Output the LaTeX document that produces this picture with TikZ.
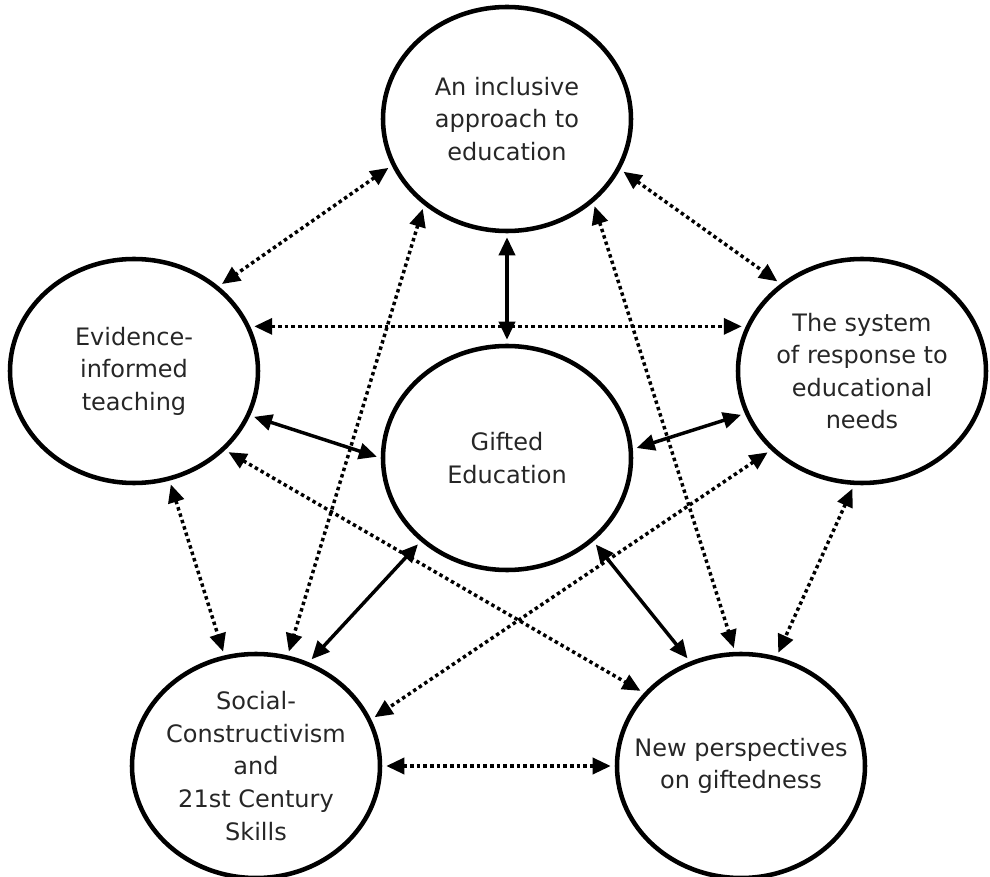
\documentclass[tikz,border=0pt]{standalone}
\usepackage{fontspec}
\setmainfont{DejaVu Sans}
\usepackage{tikz}
\usetikzlibrary{arrows.meta,shapes.geometric}

\begin{document}
\begin{tikzpicture}[
    x=0.75pt, y=-0.75pt,
    bubble/.style={ellipse,draw=black,line width=3.4pt,minimum width=186pt,minimum height=168pt,inner sep=0pt},
    bubtext/.style={align=center,text=black!85,inner sep=0pt,font=\fontsize{18pt}{24.4pt}\selectfont},
    solidlink/.style={{Triangle[length=13.5pt,width=12pt]}-{Triangle[length=13.5pt,width=12pt]},
      line width=2.6pt,shorten <=3pt,shorten >=3pt},
    dotlink/.style={solidlink,dash pattern=on 2.6pt off 2.4pt},
  ]
  \useasboundingbox (0,0) rectangle (990,877);

  % the six themes
  \node[bubble,label={[bubtext]center:An inclusive\\approach to\\education}] (incl) at (507,119) {};
  \node[bubble,label={[bubtext]center:Evidence-\\informed\\teaching}] (evid) at (134,371) {};
  \node[bubble,label={[bubtext]center:The system\\of response to\\educational\\needs}] (resp) at (862,371) {};
  \node[bubble,label={[bubtext]center:Gifted\\Education}] (gifted) at (507,458) {};
  \node[bubble,label={[bubtext]center:Social-\\Constructivism\\and\\21st Century\\Skills}] (social) at (256,766) {};
  \node[bubble,label={[bubtext]center:New perspectives\\on giftedness}] (newp) at (741,766) {};

  % links to the centre
  \draw[solidlink] (incl.270)   -- (gifted.90);
  \draw[solidlink] (evid.-21)   -- (gifted.180);
  \draw[solidlink] (gifted.4)   -- (resp.200);
  \draw[solidlink] (gifted.224) -- (social.63);
  \draw[solidlink] (gifted.-44) -- (newp.116);

  % links around the ring
  \draw[dotlink] (incl.202)  -- (evid.45);
  \draw[dotlink] (incl.-24)  -- (resp.133);
  \draw[dotlink] (evid.21)   -- (resp.159);
  \draw[dotlink] (evid.-72)  -- (social.106);
  \draw[dotlink] (resp.266)  -- (newp.72);
  \draw[dotlink] (social.0)  -- (newp.180);
  \draw[dotlink] (incl.226)  -- (social.74);
  \draw[dotlink] (incl.-44)  -- (newp.93);
  \draw[dotlink] (evid.-41)  -- (newp.143);
  \draw[dotlink] (resp.221)  -- (social.22);
\end{tikzpicture}
\end{document}
